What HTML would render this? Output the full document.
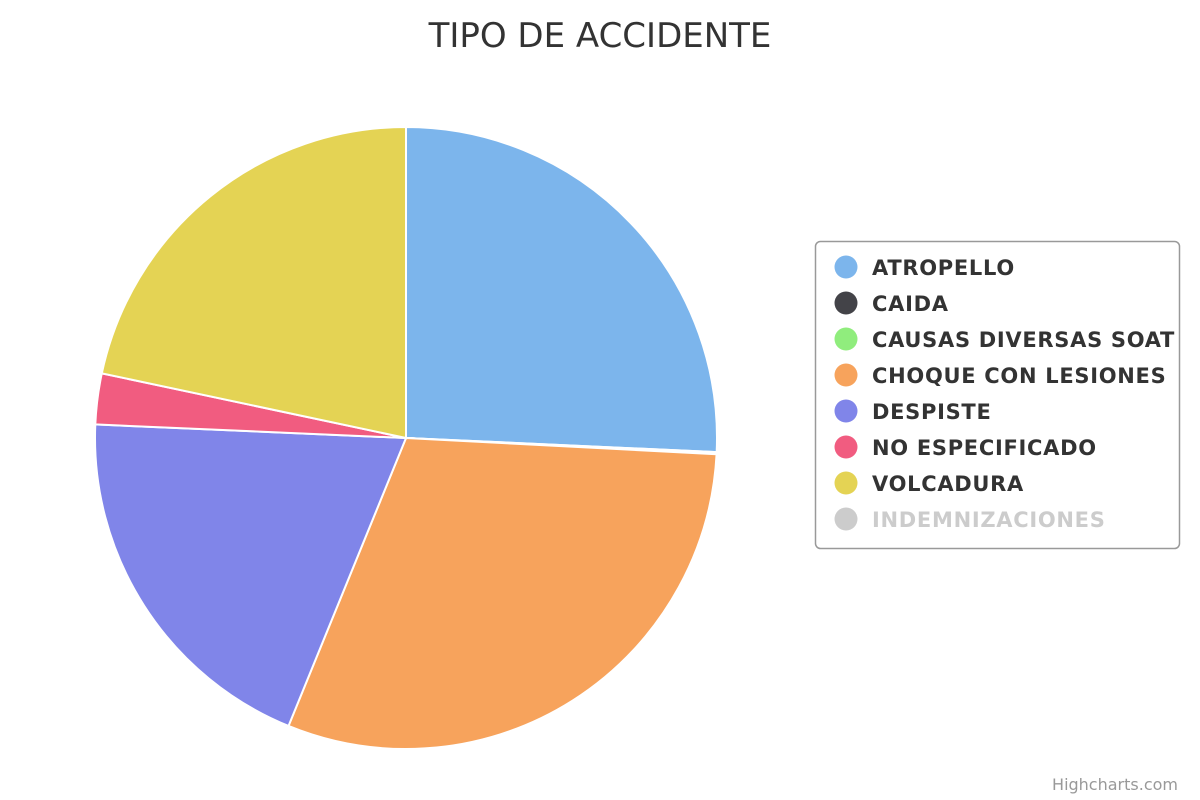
<!DOCTYPE html>
<html><head><meta charset="utf-8"><style>
html,body{margin:0;padding:0;background:#fff;width:1200px;height:800px;overflow:hidden}
svg{font-family:"DejaVu Sans","Liberation Sans",sans-serif}
</style></head><body>
<svg id="chart" width="1200" height="800">
<text x="600" y="47" text-anchor="middle" font-size="34" fill="#333">TIPO DE ACCIDENTE</text>
<g id="slices"></g>
<rect x="815.5" y="241.5" width="364" height="307" rx="5" fill="#fff" stroke="#999" stroke-width="1.5"/>
<g id="legend"></g>
<text x="1178" y="790" text-anchor="end" font-size="16" fill="#999">Highcharts.com</text>
</svg>
<script>
const categories=["ATROPELLO","CAIDA","CAUSAS DIVERSAS SOAT","CHOQUE CON LESIONES","DESPISTE","NO ESPECIFICADO","VOLCADURA","INDEMNIZACIONES"];
const values=[92.6,0.3,0.1,109.2,70.3,9.5,78.0,0];
const visible=[true,true,true,true,true,true,true,false];
const colors=["#7cb5ec","#434348","#90ed7d","#f7a35c","#8085e9","#f15c80","#e4d354","#cccccc"];
const NS="http://www.w3.org/2000/svg";
const cx=406,cy=438,r=311;
let total=0;values.forEach((v,i)=>{if(visible[i])total+=v;});
let a=0;
const sg=document.getElementById('slices');
values.forEach((v,i)=>{
  if(!visible[i]||v<=0)return;
  const a0=a,a1=a+v/total*2*Math.PI;a=a1;
  const x0=cx+r*Math.sin(a0),y0=cy-r*Math.cos(a0),x1=cx+r*Math.sin(a1),y1=cy-r*Math.cos(a1);
  const large=(a1-a0)>Math.PI?1:0;
  const p=document.createElementNS(NS,'path');
  p.setAttribute('d',`M${cx},${cy}L${x0},${y0}A${r},${r} 0 ${large} 1 ${x1},${y1}Z`);
  p.setAttribute('fill',colors[i]);p.setAttribute('stroke','#fff');p.setAttribute('stroke-width','2');
  
  
  sg.appendChild(p);
});
const lg=document.getElementById('legend');
categories.forEach((c,i)=>{
  const y=267+i*36;
  const g=document.createElementNS(NS,'g');
  
  
  const ci=document.createElementNS(NS,'circle');
  ci.setAttribute('cx',846);ci.setAttribute('cy',y);ci.setAttribute('r',11.5);
  ci.setAttribute('fill',visible[i]?colors[i]:'#cccccc');
  const t=document.createElementNS(NS,'text');
  t.setAttribute('x',872);t.setAttribute('y',y+8);t.setAttribute('font-size','21');t.setAttribute('font-weight','bold');
  t.setAttribute('letter-spacing','0.7');
  t.setAttribute('fill',visible[i]?'#333':'#ccc');t.textContent=c;
  g.appendChild(ci);g.appendChild(t);lg.appendChild(g);
});
</script>
</body></html>
